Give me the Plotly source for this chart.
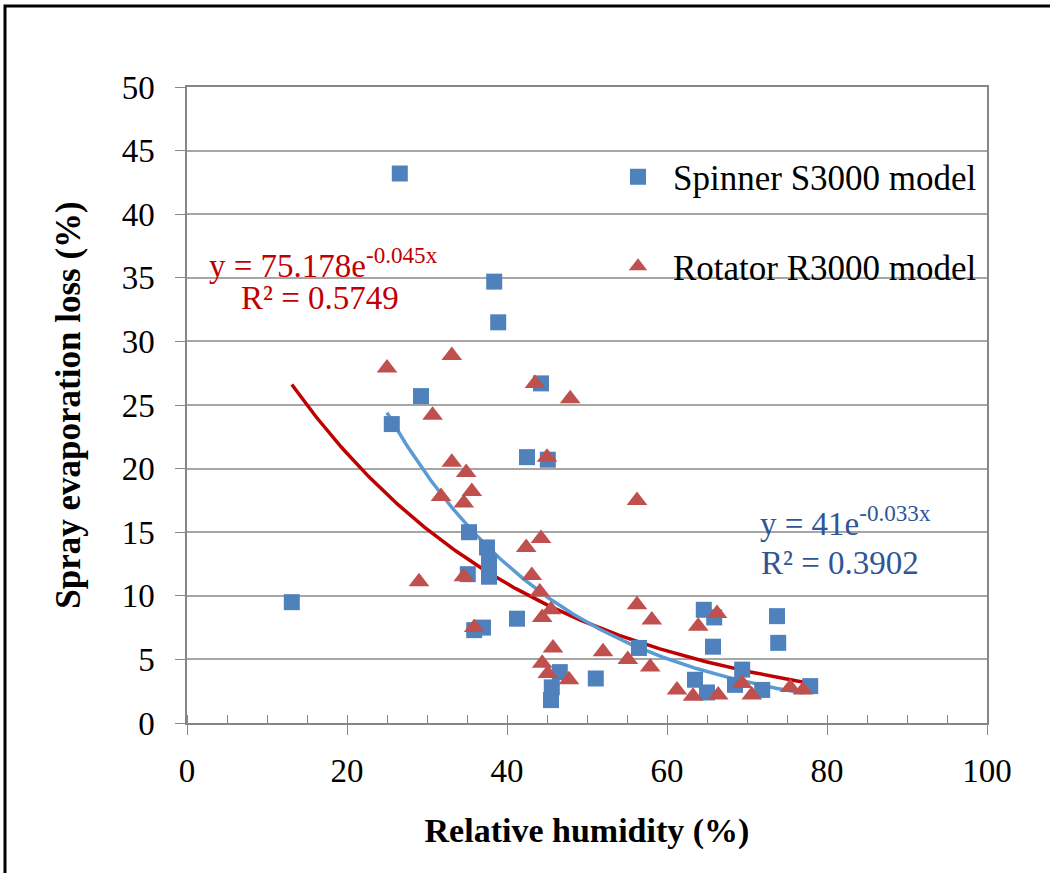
import numpy as np
import plotly.graph_objects as go

# Spinner S3000 model (blue squares)
spinner_rh = [13.1, 26.6, 25.6, 29.25, 38.4, 38.9, 44.25, 42.5, 45.1, 35.25, 35.1, 37.5, 37.75, 37.75,
              35.9, 37.0, 41.25, 46.6, 45.6, 45.5, 51.1, 56.5, 64.6, 65.9, 65.75, 73.75, 73.9, 63.5,
              65.0, 69.4, 68.5, 71.9, 77.9]
spinner_loss = [9.5, 43.2, 23.5, 25.7, 34.7, 31.5, 26.7, 20.9, 20.7, 15.0, 11.7, 13.8, 12.6, 11.5,
                7.3, 7.5, 8.2, 4.0, 2.8, 1.8, 3.5, 5.9, 8.9, 8.3, 6.0, 8.4, 6.3, 3.4,
                2.4, 4.2, 3.0, 2.6, 2.9]

# Rotator R3000 model (red triangles)
rotator_rh = [25.0, 33.1, 43.5, 47.9, 30.7, 33.1, 34.9, 35.6, 31.75, 34.6, 45.0, 56.25, 44.25, 42.4,
              29.0, 34.6, 43.1, 44.1, 44.4, 45.5, 35.9, 56.25, 58.1, 45.75, 52.0, 55.1, 44.4, 45.1,
              47.75, 57.9, 61.25, 63.25, 63.9, 66.25, 66.4, 69.4, 70.6, 75.4, 77.0]
rotator_loss = [27.9, 28.9, 26.7, 25.5, 24.2, 20.5, 19.7, 18.2, 17.8, 17.3, 20.9, 17.5, 14.5, 13.8,
                11.1, 11.5, 11.6, 10.3, 8.3, 8.9, 7.5, 9.3, 8.1, 5.9, 5.6, 5.0, 4.7, 3.9,
                3.4, 4.4, 2.6, 2.1, 7.6, 8.6, 2.2, 3.1, 2.2, 2.8, 2.6]

# Trendline coefficients as displayed (a * exp(b*x))
red_trend = [41.0, -0.033]      # red curve, spans Spinner data range
blue_trend = [75.178, -0.045]   # blue curve, spans Rotator data range

x_ticks = [0, 20, 40, 60, 80, 100]
y_ticks = [0, 5, 10, 15, 20, 25, 30, 35, 40, 45, 50]

BLUE = "#4F81BD"
RED = "#C0504D"
FONT = "Liberation Serif"

xr = np.linspace(min(spinner_rh), max(spinner_rh), 200)
xb = np.linspace(min(rotator_rh), max(rotator_rh), 200)

fig = go.Figure()
fig.add_trace(go.Scatter(x=xr, y=red_trend[0] * np.exp(red_trend[1] * xr), mode="lines",
                         line=dict(color="#C00000", width=3.5), showlegend=False, hoverinfo="skip"))
fig.add_trace(go.Scatter(x=xb, y=blue_trend[0] * np.exp(blue_trend[1] * xb), mode="lines",
                         line=dict(color="#5B9BD5", width=3.5), showlegend=False, hoverinfo="skip"))
fig.add_trace(go.Scatter(x=spinner_rh, y=spinner_loss, mode="markers", name="Spinner S3000 model",
                         legendgroup="s",
                         marker=dict(symbol="square", size=16, color=BLUE)))
fig.add_trace(go.Scatter(x=rotator_rh, y=rotator_loss, mode="markers", name="Rotator R3000 model",
                         legendgroup="r",
                         marker=dict(symbol="triangle-up", size=18, color=RED)))

fig.update_layout(
    width=1050, height=873,
    margin=dict(l=187, r=63, t=87, b=150),
    paper_bgcolor="white", plot_bgcolor="white",
    font=dict(family=FONT, color="black"),
    showlegend=True,
    legend=dict(x=0.52, y=0.905, xanchor="left", yanchor="top", bgcolor="rgba(0,0,0,0)",
                font=dict(family=FONT, size=35, color="black"),
                tracegroupgap=41, traceorder="grouped", itemwidth=60),
    xaxis=dict(range=[0, 100], tickvals=x_ticks, ticks="outside", ticklen=10, tickcolor="#868686",
               showgrid=False, zeroline=False, showline=True, linecolor="#868686", linewidth=1.5,
               mirror=True, tickfont=dict(family=FONT, size=33, color="black"),
               ticklabelstandoff=8,
               minor=dict(dtick=5, ticks="inside", ticklen=8, tickcolor="#868686"),
               title=dict(text="<b>Relative humidity (%)</b>", font=dict(family=FONT, size=34), standoff=30)),
    yaxis=dict(range=[0, 50], tickvals=y_ticks, ticks="outside", ticklen=10, tickcolor="#868686",
               showgrid=True, gridcolor="#A6A6A6", gridwidth=1.5, zeroline=False,
               showline=True, linecolor="#868686", linewidth=1.5, mirror=True,
               tickfont=dict(family=FONT, size=33, color="black"),
               ticklabelstandoff=14,
               title=dict(text="<b>Spray evaporation loss (%)</b>", font=dict(family=FONT, size=35), standoff=30)),
)

fig.add_annotation(x=0.025, y=0.723, xref="paper", yref="paper", xanchor="left", yanchor="middle",
                   text="y = 75.178e<sup>-0.045x</sup>", showarrow=False,
                   font=dict(family=FONT, size=33, color="#C00000"))
fig.add_annotation(x=0.166, y=0.668, xref="paper", yref="paper", xanchor="center", yanchor="middle",
                   text="R² = 0.5749", showarrow=False,
                   font=dict(family=FONT, size=33, color="#C00000"))
fig.add_annotation(x=0.8225, y=0.318, xref="paper", yref="paper", xanchor="center", yanchor="middle",
                   text="y = 41e<sup>-0.033x</sup>", showarrow=False,
                   font=dict(family=FONT, size=33, color="#2F5597"))
fig.add_annotation(x=0.816, y=0.2516, xref="paper", yref="paper", xanchor="center", yanchor="middle",
                   text="R² = 0.3902", showarrow=False,
                   font=dict(family=FONT, size=33, color="#2F5597"))

# outer chart frame
fig.add_shape(type="rect", xref="paper", yref="paper",
              x0=(5 - 187) / 800, x1=(1060 - 187) / 800,
              y0=(723 - 890) / 636, y1=(723 - 6) / 636,
              line=dict(color="black", width=3), fillcolor="rgba(0,0,0,0)", layer="above")

fig.write_html("out.html")
